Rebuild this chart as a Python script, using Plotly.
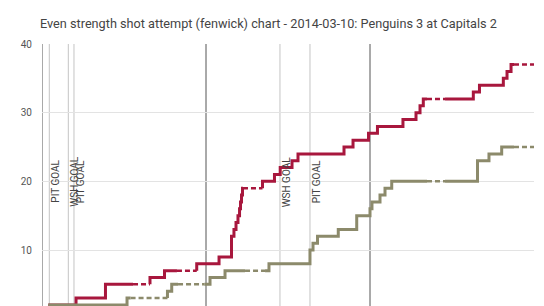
import plotly.graph_objects as go

# ---------------- data (minutes of game time, cumulative counts) ----------------
title_text = "Even strength shot attempt (fenwick) chart - 2014-03-10: Penguins 3 at Capitals 2"

wsh_times = [0.0, 0.40, 0.95, 4.15, 7.74, 13.17, 14.94, 18.87, 21.59, 23.11, 23.41, 23.66,
             23.90, 24.09, 24.21, 24.33, 24.45, 26.89, 28.35, 29.05, 30.49, 31.22, 36.83,
             37.93, 39.82, 40.91, 44.02, 45.61, 46.10, 46.50, 52.60, 53.35, 56.26, 56.71, 57.20]
wsh_values = [0, 1, 2, 3, 5, 6, 7, 8, 9, 12, 13, 14,
              15, 16, 17, 18, 19, 20, 21, 22, 23, 24, 25,
              26, 27, 28, 29, 30, 31, 32, 33, 34, 35, 36, 37]
wsh_dashed = [(11.10, 13.17), (16.46, 18.87), (24.51, 26.89), (46.95, 49.15), (57.56, 60.0)]

pit_times = [0.0, 0.40, 0.95, 10.37, 15.30, 15.82, 20.49, 22.32, 27.68, 32.68, 33.05, 33.60,
             36.13, 38.38, 40.00, 40.24, 41.22, 41.83, 42.65, 53.11, 54.51, 56.06]
pit_values = [0, 1, 2, 3, 4, 5, 6, 7, 8, 10, 11, 12,
              13, 15, 16, 17, 18, 19, 20, 23, 24, 25]
pit_dashed = [(10.80, 15.30), (16.59, 19.80), (24.76, 27.20), (46.95, 49.15), (57.56, 60.0)]

game_end = 60.0
period_lines = [0, 20, 40]
goal_times = [0.89, 3.21, 3.90, 29.02, 32.68]
goal_labels = ["PIT GOAL", "WSH GOAL", "PIT GOAL", "WSH GOAL", "PIT GOAL"]

y_ticks = [10, 20, 30, 40]

WSH_COLOR = "#a8173d"
PIT_COLOR = "#8c8a6b"


def build_paths(times, values, t_end, dashed):
    sx, sy, dx, dy = [], [], [], []
    open_end = None  # (t, v) where solid path currently ends
    for i in range(len(times)):
        a = times[i]
        b = times[i + 1] if i + 1 < len(times) else t_end
        v = values[i]
        prev_v = values[i - 1] if i > 0 else v
        cuts = sorted((max(a, s), min(b, e)) for s, e in dashed if s < b and e > a)
        pieces = []
        cur = a
        for s, e in cuts:
            if s > cur:
                pieces.append((cur, s))
            dx += [s, e, None]
            dy += [v, v, None]
            cur = e
        if cur < b:
            pieces.append((cur, b))
        new_open = None
        for p, q in pieces:
            if p == a:
                if open_end is not None and open_end[0] == a:
                    sx += [a, q]
                    sy += [v, v]
                else:
                    sx += [None, a, a, q]
                    sy += [None, prev_v, v, v]
            else:
                sx += [None, p, q]
                sy += [None, v, v]
            new_open = (q, v) if q == b else None
        open_end = new_open
    return sx, sy, dx, dy


fig = go.Figure()
for times, values, dashed, color, name in [
    (wsh_times, wsh_values, wsh_dashed, WSH_COLOR, "WSH"),
    (pit_times, pit_values, pit_dashed, PIT_COLOR, "PIT"),
]:
    sx, sy, dx, dy = build_paths(times, values, game_end, dashed)
    fig.add_trace(go.Scatter(x=sx, y=sy, mode="lines", name=name,
                             line=dict(color=color, width=3), connectgaps=False,
                             hoverinfo="skip"))
    fig.add_trace(go.Scatter(x=dx, y=dy, mode="lines", name=name + " (non-ES)",
                             line=dict(color=color, width=2.5, dash="5px,3px"),
                             connectgaps=False, hoverinfo="skip"))

shapes = []
for t in period_lines:
    shapes.append(dict(type="line", xref="x", yref="paper", x0=t, x1=t, y0=0, y1=1,
                       line=dict(color="#555555", width=1), layer="below"))
for t in goal_times:
    shapes.append(dict(type="line", xref="x", yref="paper", x0=t, x1=t, y0=0, y1=1,
                       line=dict(color="#c4c4c4", width=1), layer="below"))

annotations = []
for t, lab in zip(goal_times, goal_labels):
    annotations.append(dict(x=t, y=20, xref="x", yref="y", text=lab, showarrow=False,
                            textangle=-90, xanchor="center", yanchor="middle", xshift=6,
                            font=dict(family="Roboto", size=10, color="#444444")))

fig.update_layout(
    width=544, height=306,
    margin=dict(l=42, r=10, t=44, b=0),
    paper_bgcolor="white", plot_bgcolor="white",
    showlegend=False,
    title=dict(text=title_text, x=40 / 544, xref="container", xanchor="left",
               y=1 - 24 / 306, yref="container", yanchor="middle",
               font=dict(family="Roboto", size=12.7, color="#444444")),
    xaxis=dict(range=[0, 60], showgrid=False, zeroline=False, showticklabels=False,
               showline=False, ticks=""),
    yaxis=dict(range=[1.85, 40], tickvals=y_ticks, showgrid=True, gridcolor="#e3e3e3",
               gridwidth=1, zeroline=False, showline=False, ticks="",
               ticklabelstandoff=9,
               tickfont=dict(family="Roboto", size=10, color="#555555")),
    shapes=shapes, annotations=annotations,
)

fig.write_html("out.html", config={"displayModeBar": False})
